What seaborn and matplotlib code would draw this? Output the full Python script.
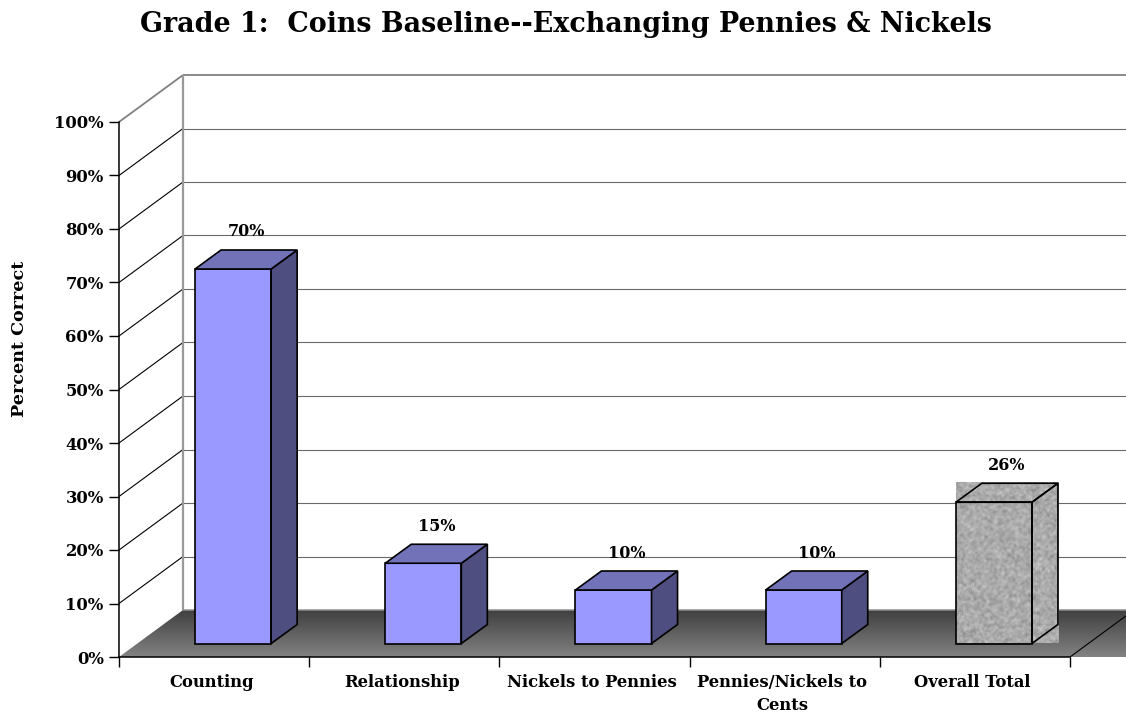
import numpy as np
import pandas as pd
import seaborn as sns
import matplotlib.pyplot as plt
from matplotlib.colors import LinearSegmentedColormap
from matplotlib.patches import Polygon
from matplotlib.transforms import Affine2D

# values
categories = ['Counting', 'Relationship', 'Nickels to Pennies', 'Pennies/Nickels to\nCents', 'Overall Total']
percent_correct = [70, 15, 10, 10, 26.4]
y_ticks = [0, 10, 20, 30, 40, 50, 60, 70, 80, 90, 100]

df = pd.DataFrame({'category': categories, 'percent': percent_correct})

sns.set_theme(style='white')
plt.rcParams['font.family'] = ['DejaVu Serif']
plt.rcParams['font.weight'] = 'bold'

W, H = 1126, 714
fig = plt.figure(figsize=(W / 100, H / 100), dpi=100)
ax = fig.add_axes([119 / W, (H - 657) / H, 951 / W, 535 / H])

palette = ['#9999ff'] * 4 + (['#a6a6aa'])
sns.barplot(data=df, x='category', y='percent', hue='category', palette=palette, legend=False,
            width=0.4, edgecolor='black', linewidth=1.2, saturation=1, ax=ax, zorder=5)
bars = list(ax.patches)
ax.set_xlim(-0.5, 4.5)
ax.set_ylim(0, 100)

# pixel -> data units
ux = 951 / 5
uy = 535 / 100
wall_dx, wall_dy = 64 / ux, 47 / uy   # depth of the chart box
bar_dx, bar_dy = 26 / ux, 19 / uy     # depth of a bar
off_x, off_y = 19 / ux, 13.5 / uy     # where the bars stand on the floor
right_edge = -0.5 + (W - 119) / ux


def line(xs, ys, color='black', lw=0.8, z=2):
    ax.plot(xs, ys, color=color, lw=lw, clip_on=False, zorder=z, solid_capstyle='butt')


# floor
floor = Polygon([(-0.5, 0), (-0.5 + wall_dx, wall_dy), (right_edge, wall_dy), (right_edge, 0)],
                closed=True, transform=ax.transData, facecolor='none', edgecolor='none')
ax.add_patch(floor)
floor_cmap = LinearSegmentedColormap.from_list('floor', ['#3f3f3f', '#828282'])
gradient = np.linspace(0, 1, 64).reshape(-1, 1)
im = ax.imshow(gradient, cmap=floor_cmap, aspect='auto', zorder=1,
               extent=(-0.5, right_edge, 0, wall_dy), origin='upper')
im.set_clip_box(fig.bbox)
im.set_clip_path(floor)
ax.set_xlim(-0.5, 4.5)
ax.set_ylim(0, 100)
line([4.5, right_edge], [0, (W - 1070) / ux * wall_dy / wall_dx], z=3)

# walls and gridlines
for t in y_ticks[1:]:
    top = t == 100
    line([-0.5, -0.5 + wall_dx], [t, t + wall_dy], color='#808080' if top else 'black', lw=1.3 if top else 0.8)
    line([-0.5 + wall_dx, right_edge], [t + wall_dy, t + wall_dy], color='#808080' if top else '#6a6a6a', lw=1.3 if top else 0.8)
line([-0.5 + wall_dx] * 2, [wall_dy, 100 + wall_dy], color='#999999', lw=1.6)
line([-0.5 + wall_dx, right_edge], [wall_dy, wall_dy], color='#909090', lw=1.1)

# stone texture for the total bar, built from a sine hash
yy, xx = np.mgrid[0:160, 0:104]
noise = (np.sin(xx * 12.9898 + yy * 78.233) * 43758.5453) % 1
for axis in (0, 1):
    noise = (np.roll(noise, 1, axis) + noise + np.roll(noise, -1, axis)) / 3
stone = 170 + (noise - 0.5) * 100

# 3d faces
for i, bar in enumerate(bars):
    bar.set_x(bar.get_x() + off_x)
    bar.set_y(off_y)
    x0, x1 = bar.get_x(), bar.get_x() + bar.get_width()
    y0, y1 = off_y, off_y + bar.get_height()
    side = [(x1, y0), (x1 + bar_dx, y0 + bar_dy), (x1 + bar_dx, y1 + bar_dy), (x1, y1)]
    top = [(x0, y1), (x0 + bar_dx, y1 + bar_dy), (x1 + bar_dx, y1 + bar_dy), (x1, y1)]
    textured = categories[i] == 'Overall Total'
    if textured:
        ax.imshow(stone, cmap='gray', vmin=0, vmax=255, aspect='auto', zorder=4.5, interpolation='bilinear',
                  extent=(x0, x1 + bar_dx, y0, y1 + bar_dy))
        bar.set_facecolor('none')
    ax.add_patch(Polygon(side, closed=True, facecolor='none' if textured else '#4e4e80',
                         edgecolor='black', lw=1.2, zorder=5, clip_on=False))
    ax.add_patch(Polygon(top, closed=True, facecolor='none' if textured else '#7272b9',
                         edgecolor='black', lw=1.2, zorder=5, clip_on=False))
    ax.text((x0 + x1) / 2 + 13 / ux, y1 + 37 / uy, f'{percent_correct[i]:.0f}%', ha='center', va='center',
            fontsize=11.5, fontweight='bold', color='black', zorder=6)
ax.set_xlim(-0.5, 4.5)
ax.set_ylim(0, 100)

# axes
sns.despine(ax=ax, top=True, right=True)
for s in ('left', 'bottom'):
    ax.spines[s].set_color('black')
    ax.spines[s].set_linewidth(1.1)
    ax.spines[s].set_zorder(6)
ax.set_yticks(y_ticks)
ax.set_yticklabels([f'{t}%' for t in y_ticks], fontsize=11.8, fontweight='bold', color='black')
ax.set_xticks(range(5))
ax.set_xticklabels(categories, fontsize=11.8, fontweight='bold', color='black', linespacing=1.5)
ax.set_xticks(np.arange(-0.5, 5), minor=True)
ax.tick_params(axis='y', length=7, width=1, color='black', left=True, pad=4)
ax.tick_params(axis='x', which='major', length=0, pad=12)
ax.tick_params(axis='x', which='minor', length=7, width=1, color='black', bottom=True)
# category labels sit a little left of the slot centre
for lab in ax.get_xticklabels():
    lab.set_transform(lab.get_transform() + Affine2D().translate(-2.5, 0))
ax.set_xlabel('')
ax.set_ylabel('')
ax.patch.set_alpha(0)

fig.text(20 / W, 1 - 339 / H, 'Percent Correct', rotation=90, ha='center', va='center',
         fontsize=12.6, fontweight='bold', color='black')
fig.text(566 / W, 1 - 24 / H, 'Grade 1:  Coins Baseline--Exchanging Pennies & Nickels', ha='center', va='center',
         fontsize=19.4, fontweight='bold', color='black')

fig.savefig('out.png', dpi=100)
